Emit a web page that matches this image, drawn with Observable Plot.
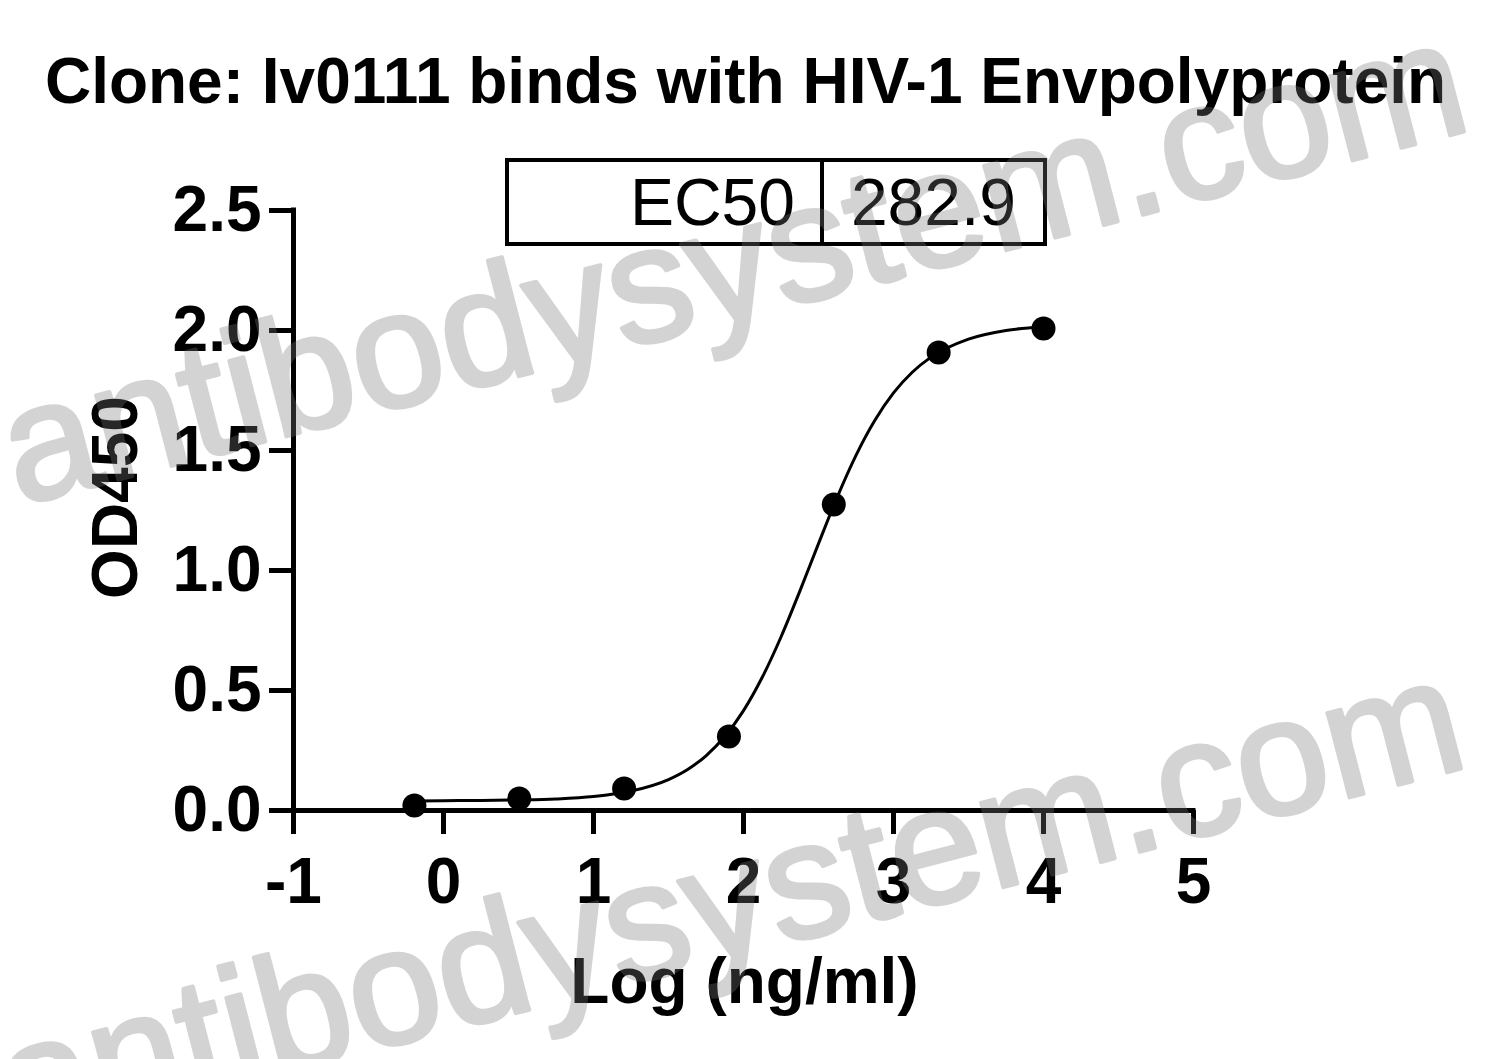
<!DOCTYPE html>
<html>
<head>
<meta charset="utf-8">
<script src="https://cdn.jsdelivr.net/npm/d3@7"></script>
<script src="https://cdn.jsdelivr.net/npm/@observablehq/plot@0.6"></script>
<style>
  html, body { margin: 0; padding: 0; background: #fff; }
  #wrap { position: relative; width: 1491px; height: 1059px; overflow: hidden; background: #fff;
          font-family: "Liberation Sans", Arial, Helvetica, sans-serif; }
  #chart { position: absolute; left: 0; top: 0; z-index: 1; }
  #ec50 { position: absolute; left: 505px; top: 158px; z-index: 0; display: flex;
          border: 4px solid #000; height: 80px; font-size: 66px; line-height: 80px; color: #000; }
  #ec50 .k { width: 286px; padding-right: 25px; text-align: right; border-right: 4px solid #000; }
  #ec50 .v { width: 219px; text-align: center; }
  g[aria-label="watermark"] { filter: blur(1.6px); }
</style>
</head>
<body>
<div id="wrap">
  <div id="ec50"><div class="k"></div><div class="v"></div></div>
  <div id="chart"></div>
</div>
<script>
// ---- data ----
const title = "Clone: Iv0111 binds with HIV-1 Envpolyprotein";
const xLabel = "Log (ng/ml)";
const yLabel = "OD450";
const xTicks = [-1, 0, 1, 2, 3, 4, 5];
const yTicks = [0, 0.5, 1.0, 1.5, 2.0, 2.5];
const ec50Label = "EC50";
const ec50Value = "282.9";
const watermark = "antibodysystem.com";

// measured points (log concentration, OD450)
const logConc = [-0.194, 0.505, 1.204, 1.903, 2.602, 3.301, 4.0];
const od450   = [0.021, 0.050, 0.092, 0.308, 1.275, 1.908, 2.008];

// fitted curve
const fitX = [-0.194, 0, 0.25, 0.5, 0.75, 1.0, 1.25, 1.5, 1.625, 1.75, 1.875, 2.0, 2.125, 2.25,
              2.375, 2.5, 2.625, 2.75, 2.875, 3.0, 3.125, 3.25, 3.5, 3.75, 4.0];
const fitY = [0.040, 0.041, 0.042, 0.044, 0.048, 0.058, 0.081, 0.129, 0.170, 0.228, 0.308, 0.416,
              0.555, 0.723, 0.913, 1.112, 1.306, 1.480, 1.625, 1.740, 1.826, 1.889, 1.964, 2.000, 2.016];

// ---- build ----
document.querySelector("#ec50 .k").textContent = ec50Label;
document.querySelector("#ec50 .v").textContent = ec50Value;

const pts = logConc.map((x, i) => ({x, y: od450[i]}));
const fit = fitX.map((x, i) => ({x, y: fitY[i]}));
const font = "'Liberation Sans', Arial, Helvetica, sans-serif";

const wmStyle = {text: d => d, frameAnchor: "top-left", rotate: -14.5, textAnchor: "start",
                 lineAnchor: "bottom", fontSize: 165, fontWeight: "normal",
                 fill: "#7a7a7a", stroke: "#7a7a7a", strokeWidth: 4, strokeLinejoin: "round",
                 opacity: 0.32, ariaLabel: "watermark"};

const chart = Plot.plot({
  width: 1491,
  height: 1059,
  marginLeft: 293,
  marginRight: 298,
  marginTop: 210,
  marginBottom: 249,
  style: {fontFamily: font, background: "transparent", color: "#000", overflow: "visible"},
  x: {domain: [-1, 5]},
  y: {domain: [0, 2.5]},
  marks: [
    Plot.line(fit, {x: "x", y: "y", stroke: "#000", strokeWidth: 3, curve: "monotone-x"}),
    Plot.dot(pts, {x: "x", y: "y", r: 12, fill: "#000", stroke: "none"}),
    Plot.ruleX([-1], {y1: 0, y2: 2.5, stroke: "#000", strokeWidth: 5, strokeLinecap: "square"}),
    Plot.ruleY([0], {x1: -1, x2: 5, stroke: "#000", strokeWidth: 5, strokeLinecap: "square"}),
    Plot.axisX({ticks: xTicks, tickSize: 24, tickPadding: 23, strokeWidth: 5, fontSize: 64,
                fontWeight: "bold", label: null, tickFormat: d => String(d)}),
    Plot.axisY({ticks: yTicks, tickSize: 24, tickPadding: 8, strokeWidth: 5, fontSize: 64,
                fontWeight: "bold", label: null, tickFormat: d3.format(".1f")}),
    Plot.text([title], {text: d => d, frameAnchor: "top", textAnchor: "middle", dx: 2, dy: -108,
                        lineAnchor: "bottom", fontSize: 64, fontWeight: "bold", fill: "#000"}),
    Plot.text([xLabel], {text: d => d, frameAnchor: "bottom", textAnchor: "middle", dx: 1, dy: 192,
                         lineAnchor: "bottom", fontSize: 64, fontWeight: "bold", fill: "#000"}),
    Plot.text([yLabel], {text: d => d, frameAnchor: "left", textAnchor: "middle", lineAnchor: "middle",
                         dx: -177, dy: -13, rotate: -90, fontSize: 64, fontWeight: "bold", fill: "#000"}),
    Plot.text([watermark], {...wmStyle, dx: -275, dy: 295}),
    Plot.text([watermark], {...wmStyle, dx: -278, dy: 932})
  ]
});
document.getElementById("chart").appendChild(chart);
</script>
</body>
</html>
